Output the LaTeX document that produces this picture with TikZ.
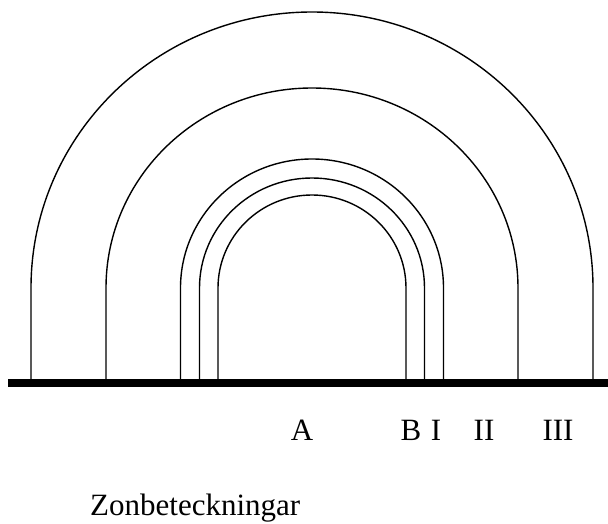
\documentclass[tikz,border=0pt]{standalone}
\usepackage{fontspec}
\setmainfont{Liberation Serif}
\usepackage{tikz}
\usetikzlibrary{calc}
\usetikzlibrary{positioning}

\tikzset{
    zone/.style={anchor=base, inner sep=0pt, font=\fontsize{31}{36}\selectfont},
    arch/.style={line width=1.4pt},
    ground/.style={line width=8pt}
}

\begin{document}
\begin{tikzpicture}[x=1pt,y=1pt]
            \useasboundingbox (0,0) rectangle (608,523);

            \coordinate (g0) at (8,140);
            \coordinate (g1) at (608,140);

            % arches: half width / height of the round top
            \foreach \i/\rx/\ry in {1/281/276,2/206/200,3/131.5/129,4/112.5/110,5/94/93}{
                \coordinate (l\i) at ({312-\rx},140);
                \coordinate (r\i) at ({312+\rx},140);
                \draw[arch] (l\i) -- ++(0,95)
                    arc[start angle=180, end angle=0, x radius=\rx, y radius=\ry]
                    -- (r\i);
            }

            \draw[ground] (g0)--(g1);

            \node[zone] (zA) at (302,83) {A};
            \node[zone] (zB) at (411,83) {B};
            \node[zone] (zI) at (436,83) {I};
            \node[zone] (zII) at (484,83) {II};
            \node[zone] (zIII) at (558,83) {III};

            \node[zone, anchor=base west] (title) at (90,8) {Zonbeteckningar};
        \end{tikzpicture}
\end{document}
